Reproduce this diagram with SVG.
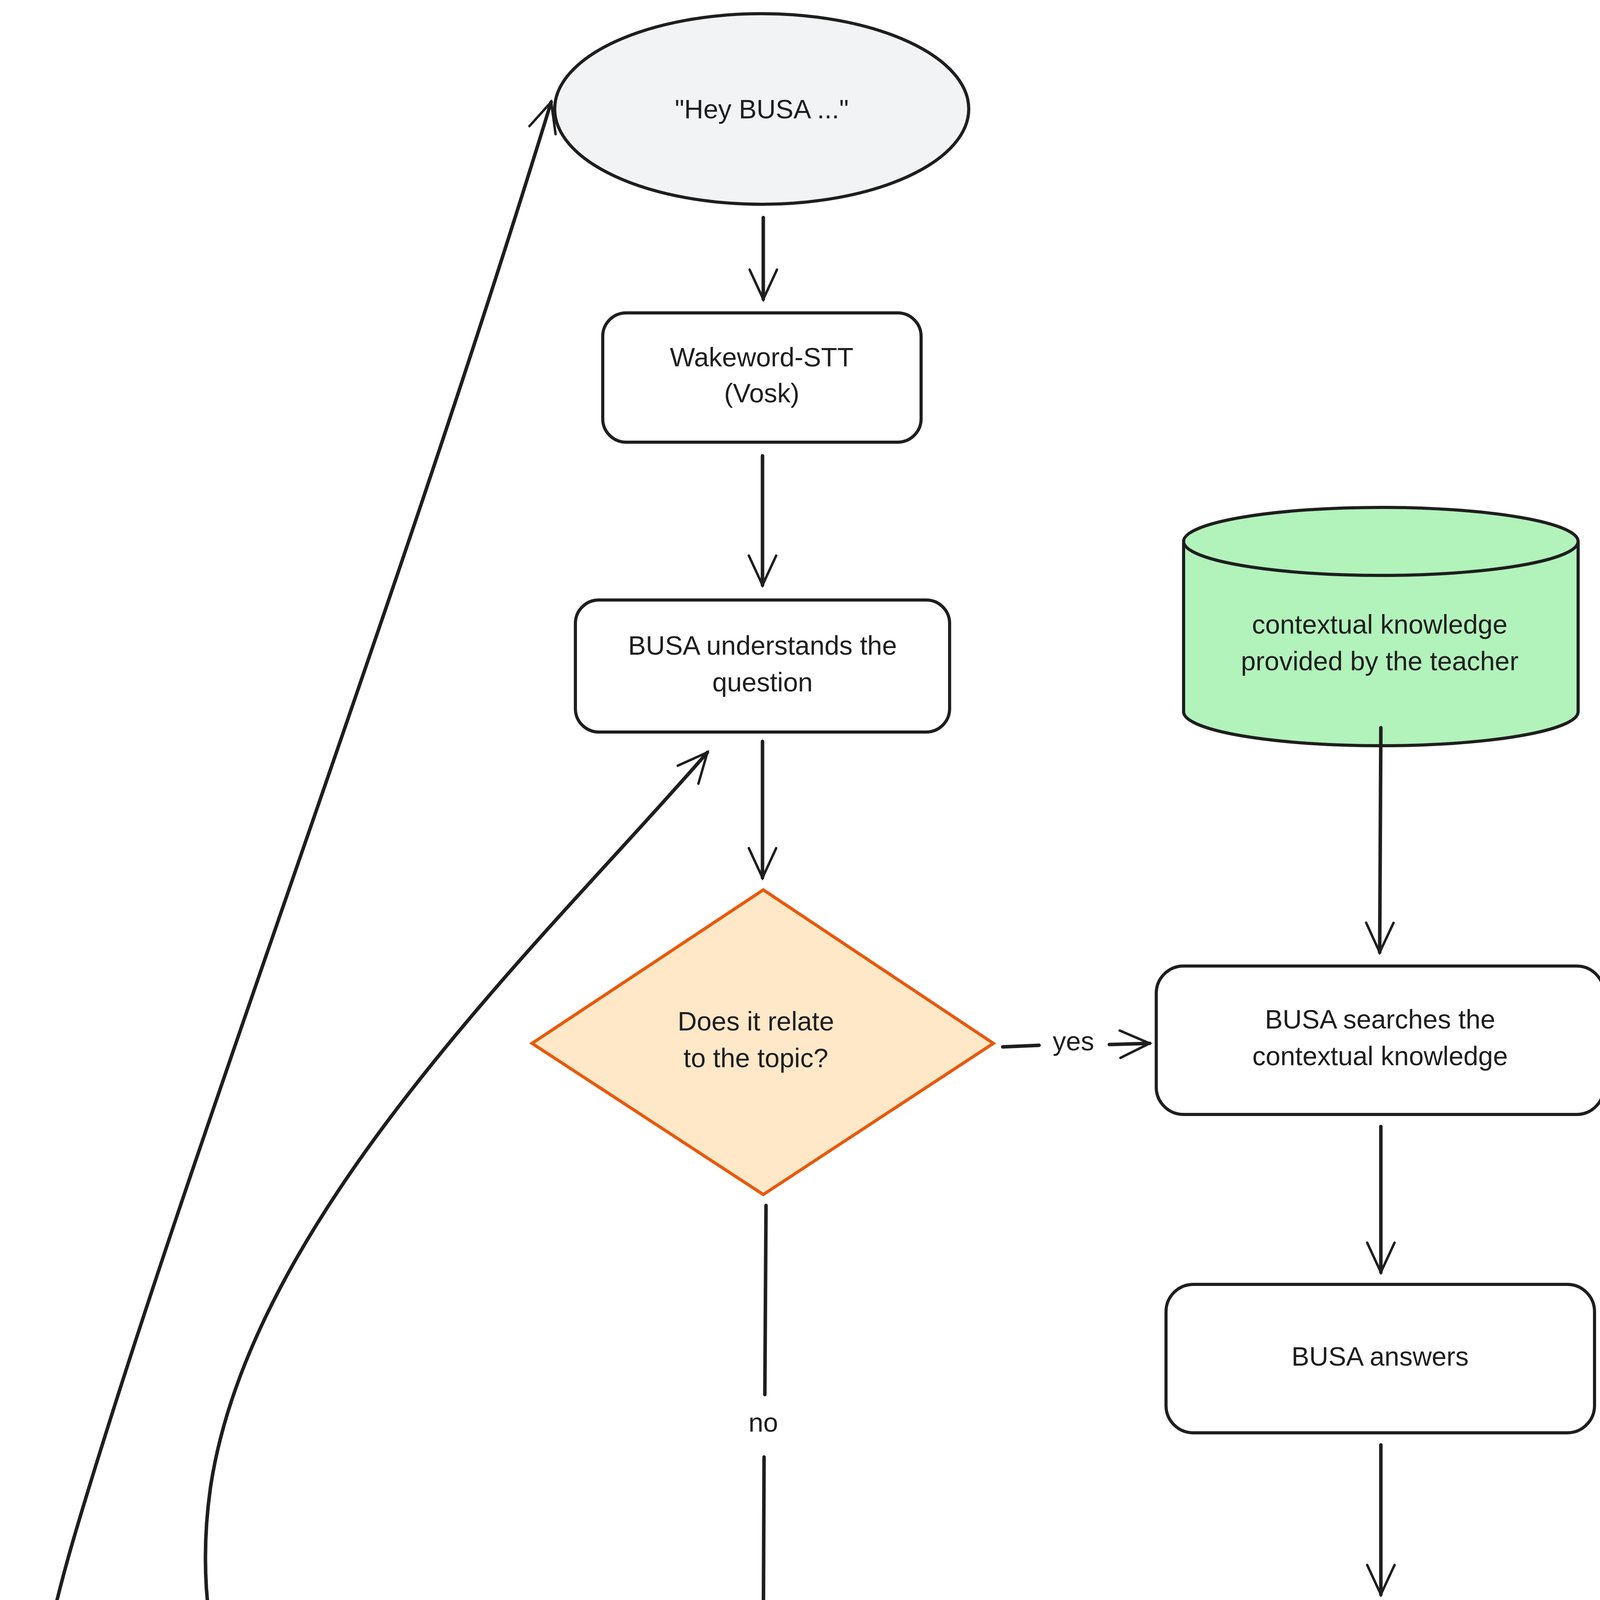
<svg xmlns="http://www.w3.org/2000/svg" width="4235" height="5469" viewBox="0 0 4235 5469">
<style>
.n{fill:#fff;stroke:#1e1e1e;stroke-width:8}
.t{font-family:"Liberation Sans",sans-serif;font-size:68px;fill:#1e1e1e;text-anchor:middle;dominant-baseline:middle}
.c{fill:none;stroke:#1e1e1e;stroke-width:9;stroke-linecap:round}
</style>
<defs>
<marker id="a" viewBox="0 0 20 20" refX="18" refY="10" markerWidth="14" markerHeight="14" markerUnits="userSpaceOnUse" orient="auto" style="overflow:visible">
<path d="M-90 -40 L18 10 L-90 60" fill="none" stroke="#1e1e1e" stroke-width="9" stroke-linecap="round"/>
</marker>
</defs>
<rect width="4235" height="5469" fill="#fff"/>
<g id="hey"><ellipse class="n" cx="1950" cy="279" rx="530" ry="244" fill="#f1f3f5" style="fill:#f1f3f5"/><text class="t" x="1950" y="285">"Hey BUSA ..."</text></g>
<g id="wake"><rect class="n" x="1543" y="801" width="815" height="331" rx="60"/><text class="t" x="1950" y="920">Wakeword-STT</text><text class="t" x="1950" y="1012">(Vosk)</text></g>
<g id="under"><rect class="n" x="1473" y="1536" width="958" height="338" rx="60"/><text class="t" x="1952" y="1658">BUSA understands the</text><text class="t" x="1952" y="1752">question</text></g>
<g id="dec"><polygon points="1954,2278 2543,2671 1954,3058 1362,2671" fill="#ffe8c8" stroke="#e8590c" stroke-width="8"/><text class="t" x="1935" y="2620">Does it relate</text><text class="t" x="1935" y="2714">to the topic?</text></g>
<g id="db"><path d="M3030 1386 V1822 A505 87 0 0 0 4040 1822 V1386" fill="#b2f2bb" stroke="#1e1e1e" stroke-width="8"/><ellipse cx="3535" cy="1386" rx="505" ry="87" fill="#b2f2bb" stroke="#1e1e1e" stroke-width="8"/><text class="t" x="3532" y="1604">contextual knowledge</text><text class="t" x="3532" y="1698">provided by the teacher</text></g>
<g id="search"><rect class="n" x="2960" y="2473" width="1146" height="380" rx="70"/><text class="t" x="3533" y="2615">BUSA searches the</text><text class="t" x="3533" y="2709">contextual knowledge</text></g>
<g id="ans"><rect class="n" x="2985" y="3288" width="1097" height="380" rx="70"/><text class="t" x="3533" y="3478">BUSA answers</text></g>
<g id="pupil"><ellipse class="n" cx="3532" cy="4423" rx="651" ry="296" style="fill:#f1f3f5"/><text class="t" x="3532" y="4375">Pupil can ask another</text><text class="t" x="3532" y="4469">question</text></g>
<g id="guide"><rect class="n" x="1376" y="4239" width="1149" height="383" rx="70"/><text class="t" x="1950" y="4385">BUSA guides back to the</text><text class="t" x="1950" y="4479">topic</text></g>
<g id="connectors">
<path class="c" marker-end="url(#a)" d="M1954 557 L1954 766"/>
<path class="c" marker-end="url(#a)" d="M1952 1167 L1952 1498"/>
<path class="c" marker-end="url(#a)" d="M1952 1898 L1952 2247"/>
<path class="c" d="M2567 2680 L2660 2676"/>
<path class="c" marker-end="url(#a)" d="M2840 2674 L2943 2671"/>
<text class="t" x="2748" y="2671">yes</text>
<path class="c" marker-end="url(#a)" d="M3535 1863 L3532 2438"/>
<path class="c" marker-end="url(#a)" d="M3535 2884 L3535 3257"/>
<path class="c" marker-end="url(#a)" d="M3535 3699 L3535 4082"/>
<path class="c" d="M1961 3086 L1958 3570"/>
<text class="t" x="1954" y="3647">no</text>
<path class="c" marker-end="url(#a)" d="M1956 3730 L1954 4207"/>
<path class="c" marker-end="url(#a)" d="M2553 4420 L2856 4416"/>
<path class="c" marker-end="url(#a)" d="M3413 4737 C2400 5020 1700 5200 1500 5130 C800 5050 450 4400 540 3800 C650 3100 1400 2400 1811 1926"/>
<text class="t" x="721" y="4545">Within about 10 seconds</text>
<path class="c" marker-end="url(#a)" d="M3532 4726 C2900 4950 2200 5400 1500 5416 C1100 5420 800 5380 435 5207 C0 4950 20 4500 200 3900 C500 2900 1000 1600 1411 261"/>
<text class="t" x="575" y="5294">After more than 10 seconds</text>
</g>
</svg>
